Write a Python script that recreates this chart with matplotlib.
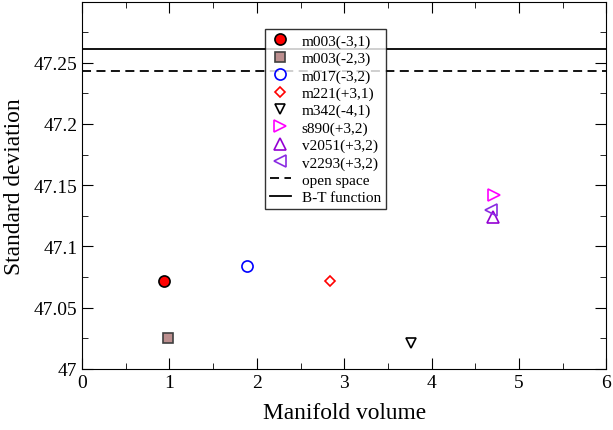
import matplotlib
matplotlib.use("Agg")
from matplotlib import pyplot as plt
from matplotlib.ticker import MultipleLocator

plt.rcParams['font.family'] = ['Liberation Serif', 'DejaVu Serif']

labels = ['m003(-3,1)', 'm003(-2,3)', 'm017(-3,2)', 'm221(+3,1)',
          'm342(-4,1)', 's890(+3,2)', 'v2051(+3,2)', 'v2293(+3,2)']
volume = [0.94, 0.985, 1.89, 2.84, 3.76, 4.71, 4.70, 4.68]
stdev = [47.072, 47.025, 47.084, 47.072, 47.021, 47.142, 47.124, 47.130]

open_space = 47.243
bt_function = 47.261

markers = ['o', 's', 'o', 'D', 'v', '>', '^', '<']
faces = ['red', '#bc8f8f', 'none', 'none', 'none', 'none', 'none', 'none']
edges = ['black', '#404040', 'blue', 'red', 'black', '#ff00ff', '#9400d3', '#8a2be2']
sizes = [8, 7, 8, 5.5, 7.5, 8, 8, 8]

fig = plt.figure(figsize=(6.13, 4.31), dpi=100)
ax = fig.add_axes([0.134, 0.142, 0.855, 0.852])

for i in range(len(labels)):
    ax.plot(volume[i], stdev[i], linestyle='none', marker=markers[i],
            markersize=sizes[i], markerfacecolor=faces[i],
            markeredgecolor=edges[i], markeredgewidth=1.2, label=labels[i])

ax.axhline(open_space, color='black', linestyle=(0, (5, 3)), lw=1.3, label='open space')
ax.axhline(bt_function, color='black', linestyle='-', lw=1.3, label='B-T function')

ax.set_xlim(0, 6)
ax.set_ylim(47, 47.3)
ax.xaxis.set_major_locator(MultipleLocator(1))
ax.xaxis.set_minor_locator(MultipleLocator(0.5))
ax.yaxis.set_major_locator(MultipleLocator(0.05))
ax.yaxis.set_minor_locator(MultipleLocator(0.025))
ax.set_yticks([47, 47.05, 47.1, 47.15, 47.2, 47.25])
ax.set_yticklabels(['47', '47.05', '47.1', '47.15', '47.2', '47.25'])
ax.tick_params(which='both', direction='in', top=True, right=True, labelsize=14)
ax.tick_params(which='major', length=8)
ax.tick_params(which='minor', length=4)

ax.set_xlabel('Manifold volume', fontsize=16.8, labelpad=8)
ax.set_ylabel('Standard deviation', fontsize=16.8, labelpad=6)

leg = ax.legend(loc='upper left', bbox_to_anchor=(0.349, 0.924), fontsize=11,
                frameon=True, fancybox=False, edgecolor='black',
                handlelength=1.4, labelspacing=0.23, borderpad=0.3,
                handletextpad=0.7, borderaxespad=0)
leg.get_frame().set_linewidth(1.0)

plt.savefig('out.png', dpi=100)
